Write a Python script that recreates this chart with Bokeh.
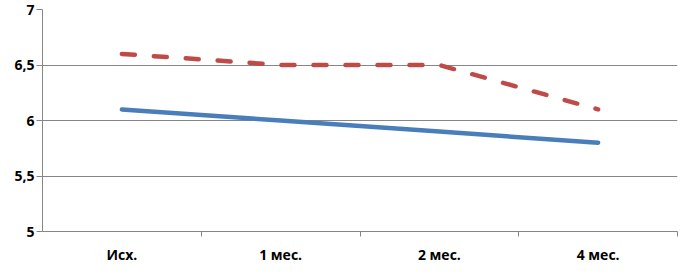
from bokeh.plotting import figure
from bokeh.models import FixedTicker, Range1d
from bokeh.embed import file_html
from bokeh.resources import INLINE

categories = ["Исх.", "1 мес.", "2 мес.", "4 мес."]
series_blue = [6.1, 6.0, 5.9, 5.8]
series_red = [6.6, 6.5, 6.5, 6.1]
y_ticks = [5, 5.5, 6, 6.5, 7]
y_tick_labels = ["5", "5,5", "6", "6,5", "7"]

x_pos = [i + 0.5 for i in range(len(categories))]
boundaries = [i + 1 for i in range(len(categories))]

p = figure(width=678, height=266, output_backend="svg", toolbar_location=None,
           x_range=Range1d(0, len(categories)), y_range=Range1d(5, 7),
           min_border_left=42, min_border_right=1, min_border_top=9, min_border_bottom=30)
p.outline_line_color = None
p.background_fill_color = "white"

p.line(x_pos, series_blue, line_color="#4a7ebb", line_width=4.5, line_cap="round")
p.line(x_pos, series_red, line_color="#be4b48", line_width=4.5, line_dash="13 19", line_cap="round")

# x axis
xa = p.xaxis[0]
xa.ticker = FixedTicker(ticks=x_pos, minor_ticks=boundaries)
xa.major_label_overrides = {x: c for x, c in zip(x_pos, categories)}
xa.major_tick_line_color = None
xa.major_tick_out = 0
xa.major_tick_in = 0
xa.minor_tick_line_color = "#868686"
xa.minor_tick_out = 5
xa.minor_tick_in = 0
xa.axis_line_color = "#868686"
xa.major_label_text_font = "Open Sans"
xa.major_label_text_font_style = "bold"
xa.major_label_text_font_size = "14px"
xa.major_label_text_color = "black"
xa.major_label_standoff = 8

# y axis
ya = p.yaxis[0]
ya.ticker = FixedTicker(ticks=y_ticks)
ya.major_label_overrides = {t: l for t, l in zip(y_ticks, y_tick_labels)}
ya.minor_tick_line_color = None
ya.major_tick_line_color = "#868686"
ya.major_tick_out = 6
ya.major_tick_in = 0
ya.axis_line_color = "#868686"
ya.major_label_text_font = "Open Sans"
ya.major_label_text_font_style = "bold"
ya.major_label_text_font_size = "14px"
ya.major_label_text_color = "black"
ya.major_label_standoff = 2

p.xgrid.grid_line_color = None
p.ygrid.ticker = FixedTicker(ticks=y_ticks)
p.ygrid.grid_line_color = "#868686"
p.ygrid.grid_line_width = 1

open("out.html", "w").write(file_html(p, INLINE))
